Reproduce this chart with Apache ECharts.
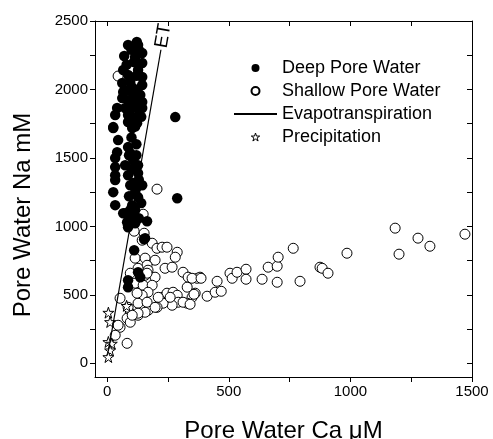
<!DOCTYPE html>
<html><head><meta charset="utf-8">
<script src="https://cdn.jsdelivr.net/npm/echarts@6/dist/echarts.min.js"></script>
<style>html,body{margin:0;padding:0;background:#fff}#c{width:493px;height:439px}</style>
</head><body><div id="c"></div>
<script>
// Deep pore water: [Ca µM, Na mM]
const deepPoreWater = [
  [122,2346],[86,2325],[127,2325],[144,2266],[70,2244],[115,2237],[144,2193],[127,2142],[66,2142],[86,2105],
  [144,2091],[62,2047],[95,2054],[144,2032],[66,1981],[103,1981],[136,1959],[62,1937],[86,1922],[144,1908],
  [115,1886],[74,1864],[144,1864],[41,1864],[33,1813],[86,1813],[123,1798],[86,1762],[123,1754],[25,1725],
  [280,1798],[100,2290],[130,2290],[110,2200],[80,2180],[120,2100],[100,2020],[125,2000],[80,1990],[110,1930],
  [130,1850],[95,1850],[105,1790],[140,1800],[115,1730],
  [25,1718],[103,1718],[45,1630],[86,1579],[41,1542],[95,1535],[33,1499],[74,1447],[127,1447],[107,1484],
  [33,1433],[33,1374],[86,1374],[127,1389],[33,1338],[107,1316],[144,1301],[25,1250],[115,1250],[127,1213],
  [33,1155],[103,1155],[115,1118],[74,1096],[82,1031],[86,1009],[164,1038],[288,1206],
  [100,1650],[120,1600],[90,1520],[120,1520],[100,1420],[130,1340],[95,1300],[120,1280],[90,1220],[140,1170],
  [110,1080],[130,1060],[95,1120],[66,1096],[115,1023],[103,1067],
  [86,994],[152,906],[111,826],[127,665],[136,629],[86,607],[86,556],[156,914]
];
// Shallow pore water
const shallowPoreWater = [
  [45,2098],[205,1272],[148,1089],[111,965],[152,950],
  [144,899],[185,877],[205,840],[226,848],[246,848],[288,811],[280,775],[115,768],[156,768],[197,753],
  [164,716],[168,680],[238,694],[267,702],[312,665],[333,629],[370,621],[127,694],[95,658],[156,643],
  [197,629],[164,658],[115,585],[148,570],[185,570],[168,519],[144,497],[226,482],[246,512],[271,519],
  [288,497],[349,482],[329,439],[292,446],[267,424],[230,439],[205,409],[168,387],[127,439],[95,366],
  [53,475],[86,409],[82,329],[95,300],[53,263],[33,205],[82,146],[127,351],[156,373],[312,446],
  [362,512],[329,556],[210,482],[259,482],[123,512],[164,446],[197,409],[127,366],[103,351],[45,278],
  [382,629],[349,621],
  [341,431],[357,504],[386,621],[411,490],[452,599],[444,519],[469,526],[505,658],[514,621],[534,665],
  [571,687],[571,614],[637,614],[662,702],[699,709],[703,775],[699,592],[765,840],[793,599],[875,702],
  [884,694],[908,658],[986,804],[1184,987],[1200,797],[1278,914],[1327,855],[1471,943]
];
// Precipitation
const precipitation = [[5,370],[12,302],[5,156],[19,144],[12,95],[5,46],[80,420]];
// Evapotranspiration line
const evapotranspiration = [[5,90],[221,2290]];
const etLabelPoint = [221,2290];

const xTickValues = [0,250,500,750,1000,1250,1500];
const xTickLabels = [0,500,1000,1500];
const yTickValues = [0,250,500,750,1000,1250,1500,1750,2000,2250,2500];
const yTickLabels = [0,500,1000,1500,2000,2500];

const FONT = "'Liberation Sans', Arial, sans-serif";
const STAR = 'path://M0,-10L2.245,-3.09L9.51,-3.09L3.633,1.18L5.878,8.09L0,3.82L-5.878,8.09L-3.633,1.18L-9.51,-3.09L-2.245,-3.09Z';

const axisCommon = {
  type: 'value',
  splitLine: {show: false},
  axisLine: {show: true, onZero: false, lineStyle: {color: '#000', width: 1}},
};
const plain = v => String(v);

const chart = echarts.init(document.getElementById('c'), null, {renderer: 'canvas'});
chart.setOption({
  backgroundColor: '#fff',
  animation: false,
  grid: {left: 95, right: 21, top: 21, bottom: 62, containLabel: false, outerBoundsMode: 'none'},
  xAxis: [
    Object.assign({}, axisCommon, {
      position: 'bottom', min: -50, max: 1500,
      name: 'Pore Water Ca μM', nameLocation: 'middle', nameGap: 42,
      nameTextStyle: {fontFamily: FONT, fontSize: 24, color: '#000'},
      axisTick: {show: true, inside: false, length: 5, customValues: xTickValues, lineStyle: {color: '#000'}},
      axisLabel: {show: true, margin: 7, customValues: xTickLabels, formatter: plain, fontFamily: FONT, fontSize: 15, color: '#000'}
    }),
    Object.assign({}, axisCommon, {
      position: 'top', min: -50, max: 1500,
      axisTick: {show: true, inside: true, length: 5, customValues: xTickValues, lineStyle: {color: '#000'}},
      axisLabel: {show: false}
    })
  ],
  yAxis: [
    Object.assign({}, axisCommon, {
      position: 'left', min: -100, max: 2500,
      name: 'Pore Water Na mM', nameLocation: 'middle', nameGap: 60,
      nameTextStyle: {fontFamily: FONT, fontSize: 24, color: '#000', padding: [0, 32, 0, 0]},
      axisTick: {show: true, inside: false, length: 5, customValues: yTickValues, lineStyle: {color: '#000'}},
      axisLabel: {show: true, margin: 7, customValues: yTickLabels, formatter: plain, fontFamily: FONT, fontSize: 15, color: '#000'}
    }),
    Object.assign({}, axisCommon, {
      position: 'right', min: -100, max: 2500,
      axisTick: {show: true, inside: true, length: 5, customValues: yTickValues, lineStyle: {color: '#000'}},
      axisLabel: {show: false}
    })
  ],
  legend: {
    orient: 'vertical', left: 228, top: 54,
    itemWidth: 43, itemHeight: 8, itemGap: 5,
    data: [
      {name: 'Deep Pore Water'},
      {name: 'Shallow Pore Water'},
      {name: 'Evapotranspiration', itemStyle: {opacity: 0}},
      {name: 'Precipitation', itemStyle: {color: '#fff', borderColor: '#000', borderWidth: 1}}
    ],
    textStyle: {fontFamily: FONT, fontSize: 18, lineHeight: 18, color: '#000'}
  },
  series: [
    {
      name: 'Shallow Pore Water', type: 'scatter', data: shallowPoreWater,
      symbol: 'circle', symbolSize: 10,
      itemStyle: {color: '#fff', borderColor: '#000', borderWidth: 1, opacity: 1}
    },
    {
      name: 'Deep Pore Water', type: 'scatter', data: deepPoreWater,
      symbol: 'circle', symbolSize: 10.5,
      itemStyle: {color: '#000', opacity: 1}
    },
    {
      name: 'Evapotranspiration', type: 'line', data: evapotranspiration,
      symbol: 'none', showSymbol: false,
      lineStyle: {color: '#000', width: 1.2},
      itemStyle: {color: '#000'},
      markPoint: {
        symbol: 'circle', symbolSize: 1,
        itemStyle: {color: 'transparent'},
        label: {show: true, formatter: 'ET', position: 'inside', align: 'left', verticalAlign: 'middle',
                rotate: 80, padding: [0, 0, 0, 2], fontFamily: FONT, fontSize: 19, color: '#000'},
        data: [{coord: etLabelPoint}]
      }
    },
    {
      name: 'Precipitation', type: 'scatter', data: precipitation,
      symbol: STAR, symbolSize: 11,
      itemStyle: {color: '#fff', borderColor: '#000', borderWidth: 1, opacity: 1}
    }
  ]
});
</script></body></html>
